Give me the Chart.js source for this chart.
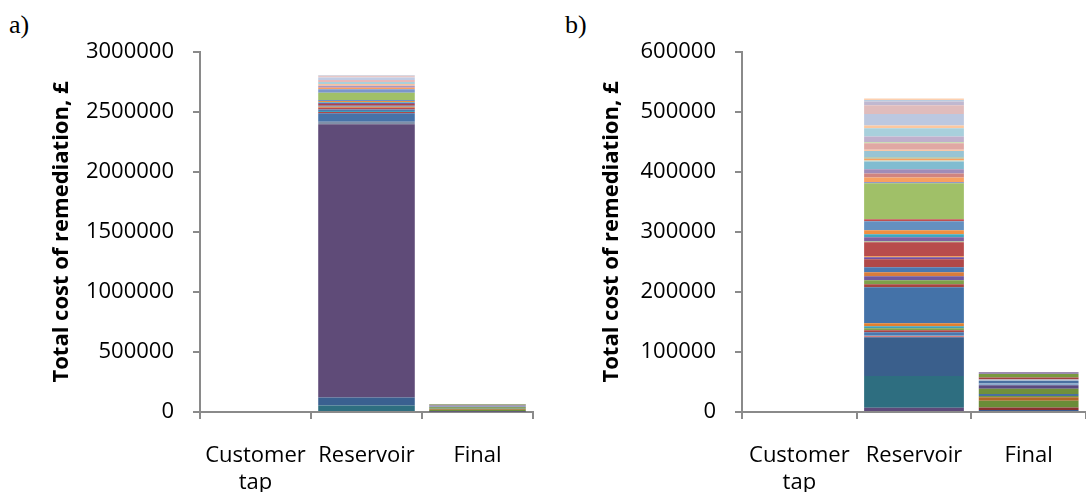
<!DOCTYPE html>
<html>
<head>
<meta charset="utf-8">
<script src="https://cdn.jsdelivr.net/npm/chart.js@4.4.1/dist/chart.umd.min.js"></script>
<style>
  body { margin:0; background:#fff; width:1086px; height:492px; overflow:hidden; position:relative; }
  .panel { position:absolute; top:0; width:543px; height:492px; }
  .tag { position:absolute; top:10px; font-family:"Liberation Serif","Times New Roman",serif; font-size:26px; color:#000; }
</style>
</head>
<body>
<div class="tag" style="left:9px">a)</div>
<div class="tag" style="left:565px">b)</div>
<div class="panel" style="left:0"><canvas id="chart-a" width="543" height="492"></canvas></div>
<div class="panel" style="left:543px"><canvas id="chart-b" width="543" height="492"></canvas></div>
<script>
const CATEGORIES = [['Customer', 'tap'], 'Reservoir', 'Final'];
const TICKS_A = { max: 3000000, step: 500000 };
const TICKS_B = { max: 600000, step: 100000 };
const Y_TITLE = 'Total cost of remediation, £';

// a) reservoir segments, bottom to top
const RES_A = [55000, 65000, 2277000, 22000, 70000,
  12000, 8000, 12000, 14000, 8000, 10000, 14000, 8000, 7000, 10000, 8000,
  61000,
  28000, 10000, 8000, 12000, 15000, 15000, 18000, 20000, 12000, 9000];
const RES_A_COLORS = ['#2e6e80', '#3a6090', '#5f4b78', '#8090a8', '#4672a8',
  '#b04848', '#40a0b8', '#4a78b0', '#b84c4c', '#e08838', '#6490c0', '#b04848', '#7a5ea0', '#48a8c0', '#f09040', '#6a90c8',
  '#a0c068',
  '#7a96cc', '#f8a060', '#d89090', '#a898c0', '#f8c0a0', '#a8d0dc', '#e8b8b8', '#c0cce4', '#e8c8c8', '#d8d8e0'];

// b) reservoir segments, bottom to top
const RES_B = [7000, 53000, 64500, 1700, 1700, 5000, 3300, 3300, 3300, 5000,
  60000, 5000, 6700, 6700, 6700, 8300, 13300, 3300, 1700,
  23300, 1700, 6700, 5000, 6700, 15000, 3300,
  60000,
  1700, 7800, 6700, 7200, 12800, 1700, 2800, 2800, 10500, 1700, 11100, 1700, 9400, 13900, 4400, 19400, 14400, 6100, 2800, 2200];
const RES_B_COLORS = ['#5e4a7a', '#2e6e80', '#3a5f8c', '#d06060', '#6890b8', '#4a78b0', '#a84444', '#80a048', '#40a0b8', '#e08030',
  '#4472a8', '#a84440', '#7ea04a', '#6e58a0', '#d87c3c', '#4a78b0', '#b04848', '#7050a0', '#f09040',
  '#b84c4c', '#a8b890', '#8060a0', '#40a8c0', '#f09040', '#6490c0', '#c05050',
  '#a0c068',
  '#7080c0', '#f8a060', '#d08480', '#a08cb8', '#80bcd0', '#c8d8c0', '#f8a060', '#a8c0a0', '#98c4d4', '#f8c8a8', '#e0a8a4', '#c0d8a0', '#c0b0cc', '#a8d0dc', '#fcc8a0', '#bcc8e0', '#e0bcbc', '#c0b8d0', '#b8cce0', '#fcd0b0'];

// final segments (both panels), bottom to top
const FINAL = [3300, 4400, 11100, 5600, 2200, 3300, 8900, 5600, 3300, 4400, 2200, 3300, 5600, 3300];
const FINAL_COLORS = ['#3a5a90', '#8a3030', '#6a8c38', '#b0662a', '#7a9a40', '#4a70a0', '#70903c', '#5a4a80',
  '#8aaacc', '#4a70a0', '#b8c8d8', '#a04040', '#7a9a40', '#9c8cb0'];

function buildDatasets(res, resColors) {
  const ds = [];
  res.forEach((v, i) => ds.push({ data: [null, v, null], backgroundColor: resColors[i] }));
  FINAL.forEach((v, i) => ds.push({ data: [null, null, v], backgroundColor: FINAL_COLORS[i] }));
  return ds;
}

const FONT = { family: '"Open Sans", "Noto Sans", sans-serif', size: 22 };
const AXIS = '#8a8a8a';

function makeChart(id, res, resColors, ticks, yWidth, titlePad, padRight) {
  return new Chart(document.getElementById(id), {
    type: 'bar',
    data: { labels: CATEGORIES, datasets: buildDatasets(res, resColors) },
    options: {
      responsive: false,
      animation: false,
      layout: { padding: { left: 0, right: padRight, top: 52, bottom: 0 } },
      plugins: { legend: { display: false }, tooltip: { enabled: false } },
      datasets: { bar: { categoryPercentage: 1, barPercentage: 0.87, borderWidth: 0 } },
      scales: {
        x: {
          stacked: true,
          border: { color: AXIS, width: 2 },
          grid: { drawOnChartArea: false, color: AXIS, lineWidth: 2, tickLength: 7, offset: true },
          ticks: { color: '#000', font: FONT, padding: 24, maxRotation: 0 },
          afterFit: s => { s.height = 80; }
        },
        y: {
          stacked: true,
          min: 0, max: ticks.max,
          border: { color: AXIS, width: 2 },
          grid: { drawOnChartArea: false, color: AXIS, lineWidth: 2, tickLength: 7 },
          ticks: { stepSize: ticks.step, color: '#000', font: FONT, padding: 19, callback: v => String(v) },
          title: { display: true, text: Y_TITLE, color: '#000',
            font: { family: FONT.family, size: 22, weight: 'bold' }, padding: { top: titlePad, bottom: 0 } },
          afterFit: s => { s.width = yWidth; }
        }
      }
    }
  });
}

makeChart('chart-a', RES_A, RES_A_COLORS, TICKS_A, 200, 49, 10);
makeChart('chart-b', RES_B, RES_B_COLORS, TICKS_B, 199, 56, 0);
</script>
</body>
</html>
